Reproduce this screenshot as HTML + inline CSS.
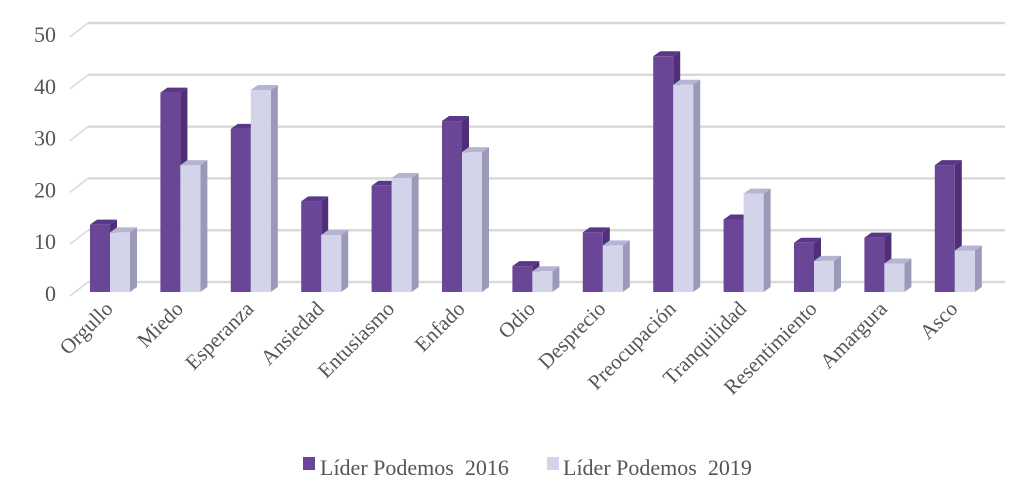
<!DOCTYPE html>
<html><head><meta charset="utf-8"><style>
html,body{margin:0;padding:0;background:#fff;}
svg{display:block;font-family:"Liberation Serif",serif;}
</style></head><body>
<svg id="c" width="1035" height="501" viewBox="0 0 1035 501"></svg>
<script>
const s=document.getElementById('c');let h='';
const sc=5.18;
for(let i=0;i<=5;i++){
 const yb=282-i*51.8;
 h+=`<line x1="88" y1="${yb}" x2="1005" y2="${yb}" stroke="#d9d9d9" stroke-width="2.5"/>`;
 h+=`<line x1="70" y1="${yb+14}" x2="88" y2="${yb}" stroke="#d9d9d9" stroke-width="1.5"/>`;
 h+=`<text x="56" y="${yb+19}" font-size="22" fill="#555" text-anchor="end">${i*10}</text>`;
}
const cats=["Orgullo","Miedo","Esperanza","Ansiedad","Entusiasmo","Enfado","Odio","Desprecio","Preocupación","Tranquilidad","Resentimiento","Amargura","Asco"];
const a=[13,38.5,31.5,17.5,20.5,33,5,11.5,45.5,14,9.5,10.5,24.5];
const b=[11.5,24.5,39,11,22,27,4,9,40,19,6,5.5,8];
function bar(x,v,f,side,top){
 const y=292-v*sc,w=20,d=7,dy=5;
 h+=`<polygon points="${x+w},${y} ${x+w+d},${y-dy} ${x+w+d},${292-dy} ${x+w},292" fill="${side}"/>`;
 h+=`<polygon points="${x},${y} ${x+d},${y-dy} ${x+w+d},${y-dy} ${x+w},${y}" fill="${top}"/>`;
 h+=`<rect x="${x}" y="${y}" width="${w}" height="${292-y}" fill="${f}"/>`;
}
cats.forEach((c,i)=>{
 const x=90+i*70.4;
 bar(x,a[i],"#6a4796","#4e2f78","#5a3888");
 bar(x+20,b[i],"#d3d3ea","#9a9ab8","#b5b5d3");
 h+=`<text transform="translate(${x+24},${310}) rotate(-45)" font-size="21" fill="#555" text-anchor="end">${c}</text>`;
});
h+=`<rect x="303" y="457" width="12" height="13" fill="#6a4796"/><text x="320" y="475" font-size="22" fill="#555" style="white-space:pre">Líder Podemos  2016</text>`;
h+=`<rect x="547" y="457" width="12" height="13" fill="#d3d3ea"/><text x="563" y="475" font-size="22" fill="#555" style="white-space:pre">Líder Podemos  2019</text>`;
s.innerHTML=h;
</script>
</body></html>
